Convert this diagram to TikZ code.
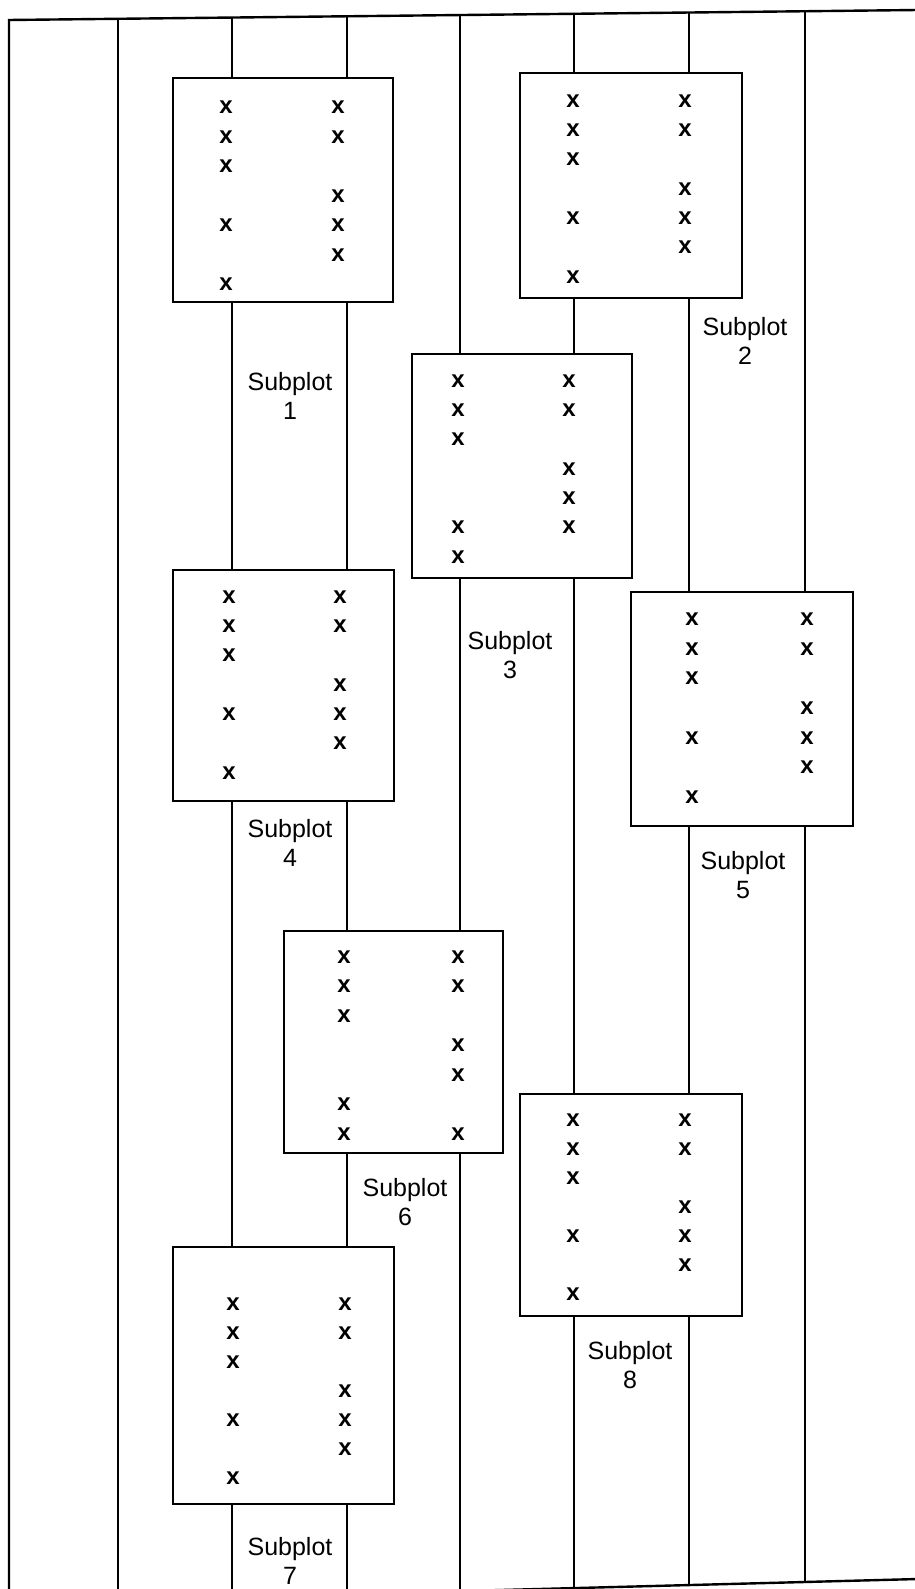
\documentclass[tikz,border=0pt]{standalone}
\usepackage{fontspec}
\setmainfont{Liberation Sans}

\begin{document}
\begin{tikzpicture}[x=1pt, y=-1pt,
    plotbox/.style={draw, line width=2.4pt, fill=white, anchor=north west, inner sep=0pt},
    tree/.style={inner sep=0pt, font=\fontsize{24}{24}\selectfont\bfseries},
    sublabel/.style={align=center, inner sep=0pt, font=\fontsize{25}{29}\selectfont}]
\useasboundingbox (0,0) rectangle (914,1589);
% row lines, cut by the field edge
\begin{scope}
    \clip (9,20) -- (914,10) -- (914,1579) -- (9,1603) -- cycle;
    \foreach \lx [count=\i] in {118,232,347,460,574,689,805} {
        \coordinate (top\i) at (\lx,0);
        \coordinate (bot\i) at (\lx,1610);
        \draw[line width=1.4pt] (top\i) -- (bot\i);
    }
\end{scope}
% field edge
\coordinate (ne) at (918,10); \coordinate (nw) at (9,20);
\coordinate (sw) at (9,1603); \coordinate (se) at (918,1579);
\draw[line width=2.4pt] (ne) -- (nw) -- (sw) -- (se);

% subplot 1
\node[plotbox, minimum width=220pt, minimum height=224pt] (sp1) at (172,77) {};
\foreach \r in {0,1,2,4,6} \node[tree] (sp1l\r) at (226,107.5+29.5*\r) {x};
\foreach \r in {0,1,3,4,5} \node[tree] (sp1r\r) at (338,107.5+29.5*\r) {x};
\node[sublabel] (lab1) at (290,396) {Subplot\\1};
% subplot 2
\node[plotbox, minimum width=222pt, minimum height=225pt] (sp2) at (519,72) {};
\foreach \r in {0,1,2,4,6} \node[tree] (sp2l\r) at (573,101+29.3*\r) {x};
\foreach \r in {0,1,3,4,5} \node[tree] (sp2r\r) at (685,101+29.3*\r) {x};
\node[sublabel] (lab2) at (745,341) {Subplot\\2};
% subplot 3
\node[plotbox, minimum width=220pt, minimum height=224pt] (sp3) at (411,353) {};
\foreach \r in {0,1,2,5,6} \node[tree] (sp3l\r) at (458,381+29.3*\r) {x};
\foreach \r in {0,1,3,4,5} \node[tree] (sp3r\r) at (569,381+29.3*\r) {x};
\node[sublabel] (lab3) at (510,655) {Subplot\\3};
% subplot 4
\node[plotbox, minimum width=221pt, minimum height=231pt] (sp4) at (172,569) {};
\foreach \r in {0,1,2,4,6} \node[tree] (sp4l\r) at (229,597+29.3*\r) {x};
\foreach \r in {0,1,3,4,5} \node[tree] (sp4r\r) at (340,597+29.3*\r) {x};
\node[sublabel] (lab4) at (290,843) {Subplot\\4};
% subplot 5
\node[plotbox, minimum width=222pt, minimum height=234pt] (sp5) at (630,591) {};
\foreach \r in {0,1,2,4,6} \node[tree] (sp5l\r) at (692,619+29.7*\r) {x};
\foreach \r in {0,1,3,4,5} \node[tree] (sp5r\r) at (807,619+29.7*\r) {x};
\node[sublabel] (lab5) at (743,875) {Subplot\\5};
% subplot 6
\node[plotbox, minimum width=219pt, minimum height=222pt] (sp6) at (283,930) {};
\foreach \r in {0,1,2,5,6} \node[tree] (sp6l\r) at (344,957+29.5*\r) {x};
\foreach \r in {0,1,3,4,6} \node[tree] (sp6r\r) at (458,957+29.5*\r) {x};
\node[sublabel] (lab6) at (405,1202) {Subplot\\6};
% subplot 7
\node[plotbox, minimum width=221pt, minimum height=257pt] (sp7) at (172,1246) {};
\foreach \r in {0,1,2,4,6} \node[tree] (sp7l\r) at (233,1304+29*\r) {x};
\foreach \r in {0,1,3,4,5} \node[tree] (sp7r\r) at (345,1304+29*\r) {x};
\node[sublabel] (lab7) at (290,1561) {Subplot\\7};
% subplot 8
\node[plotbox, minimum width=222pt, minimum height=222pt] (sp8) at (519,1093) {};
\foreach \r in {0,1,2,4,6} \node[tree] (sp8l\r) at (573,1120+29*\r) {x};
\foreach \r in {0,1,3,4,5} \node[tree] (sp8r\r) at (685,1120+29*\r) {x};
\node[sublabel] (lab8) at (630,1365) {Subplot\\8};
\end{tikzpicture}
\end{document}
